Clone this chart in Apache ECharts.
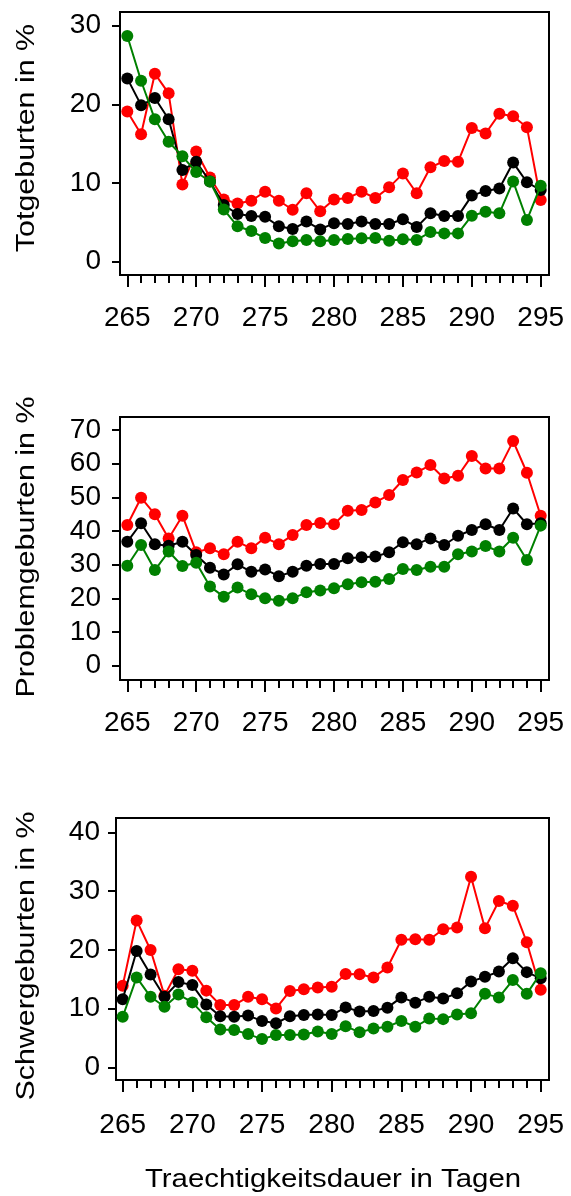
<!DOCTYPE html>
<html>
<head>
<meta charset="utf-8">
<script src="https://cdn.jsdelivr.net/npm/echarts@6/dist/echarts.min.js"></script>
<style>
html,body{margin:0;padding:0;background:#fff;}
#chart{width:571px;height:1196px;}
</style>
</head>
<body>
<div id="chart"></div>
<script>
// ---- data ----
const days = [265,266,267,268,269,270,271,272,273,274,275,276,277,278,279,280,281,282,283,284,285,286,287,288,289,290,291,292,293,294,295];
const xMajorTicks = [265,270,275,280,285,290,295];

// Panel 1: Totgeburten in %
const totRed   = [19.1,16.2,23.9,21.4,9.8,14.0,10.7,7.9,7.4,7.75,8.9,7.75,6.6,8.7,6.4,7.9,8.1,8.9,8.1,9.45,11.2,8.7,12.0,12.8,12.7,17.0,16.3,18.8,18.5,17.1,7.85];
const totBlack = [23.3,19.9,20.8,18.1,11.65,12.7,10.2,7.2,6.06,5.8,5.7,4.5,4.15,5.1,4.1,4.9,4.8,5.1,4.8,4.8,5.4,4.4,6.15,5.8,5.8,8.4,9.0,9.3,12.6,10.1,9.1];
const totGreen = [28.7,23.0,18.1,15.25,13.4,11.4,10.2,6.65,4.5,3.9,3.0,2.3,2.6,2.75,2.6,2.76,2.88,2.97,3.0,2.67,2.85,2.76,3.77,3.6,3.6,5.85,6.35,6.15,10.2,5.3,9.66];
const totYTicks = [0,10,20,30];

// Panel 2: Problemgeburten in %
const probRed   = [41.8,49.9,44.95,37.8,44.55,33.7,34.85,33.1,36.8,34.85,38.0,36.1,38.8,41.8,42.4,42.0,46.0,46.25,48.5,50.7,55.15,57.4,59.6,55.6,56.4,62.3,58.6,58.6,66.7,57.3,44.55];
const probBlack = [36.8,42.3,36.05,35.6,36.8,32.9,29.1,27.1,30.1,27.9,28.6,26.6,27.9,29.7,30.2,30.2,31.9,32.2,32.4,33.7,36.65,36.1,37.8,35.85,38.6,40.3,42.0,40.3,46.7,42.0,42.3];
const probGreen = [29.7,35.85,28.4,33.9,29.6,30.6,23.5,20.5,23.2,21.2,20.0,19.3,20.0,21.8,22.3,23.0,24.2,24.8,24.95,25.75,28.7,28.4,29.4,29.4,33.1,33.9,35.55,33.9,38.0,31.4,41.6];
const probYTicks = [0,10,20,30,40,50,60,70];

// Panel 3: Schwergeburten in %
const schwRed   = [13.9,25.0,19.97,12.2,16.7,16.45,13.05,10.6,10.6,12.0,11.6,10.0,13.0,13.3,13.6,13.7,15.9,15.85,15.3,17.0,21.7,21.8,21.7,23.5,23.8,32.45,23.65,28.3,27.5,21.3,13.2];
const schwBlack = [11.6,19.8,15.8,12.0,14.5,14.0,10.7,8.7,8.6,8.8,7.9,7.5,8.7,8.9,9.0,8.9,10.2,9.5,9.6,10.15,11.9,11.0,12.0,11.7,12.6,14.6,15.4,16.3,18.55,16.2,15.15];
const schwGreen = [8.6,15.3,12.0,10.3,12.4,11.05,8.5,6.45,6.35,5.65,4.8,5.5,5.5,5.6,6.1,5.67,7.0,5.95,6.6,6.9,7.9,6.9,8.3,8.2,9.0,9.2,12.5,11.9,14.85,12.5,16.0];
const schwYTicks = [0,10,20,30,40];

const yTitles = ['Totgeburten in %','Problemgeburten in %','Schwergeburten in %'];
const xTitle = 'Traechtigkeitsdauer in Tagen';

// ---- layout ----
const FONT = '"Liberation Sans", Arial, sans-serif';
const panels = [
  {data:{left:127.3, top:25.7, width:413.4, height:236}, frame:{left:120, top:12, width:429, height:263},
   yTicks:totYTicks, series:[totRed,totBlack,totGreen], titleY:138, ylm:19, xlm:29},
  {data:{left:127.3, top:430, width:413.4, height:235.7}, frame:{left:120, top:417, width:429, height:263},
   yTicks:probYTicks, series:[probRed,probBlack,probGreen], titleY:547, ylm:19, xlm:29},
  {data:{left:122.7, top:832.3, width:418, height:235}, frame:{left:116, top:818, width:433, height:262},
   yTicks:schwYTicks, series:[schwRed,schwBlack,schwGreen], titleY:956, ylm:16, xlm:31}
];
const colors = ['#ff0000','#000000','#008000'];

const grids=[], xAxes=[], yAxes=[], series=[], graphics=[];
panels.forEach((p,i)=>{
  grids.push(Object.assign({show:true, borderColor:'#000', borderWidth:2, backgroundColor:'transparent'}, p.frame));
  xAxes.push({type:'value', gridIndex:i, show:false, min:0, max:1});
  yAxes.push({type:'value', gridIndex:i, show:false, min:0, max:1});
});
panels.forEach((p,i)=>{
  const gi = 3+i;
  grids.push(Object.assign({show:false}, p.data));
  const xOff = (p.frame.top + p.frame.height) - (p.data.top + p.data.height);
  const yOff = p.data.left - p.frame.left;
  xAxes.push({type:'value', gridIndex:gi, position:'bottom', offset:xOff, z:10,
    min:xMajorTicks[0], max:xMajorTicks[xMajorTicks.length-1], interval:5,
    axisLine:{show:false, onZero:false},
    axisTick:{show:true, length:12, lineStyle:{color:'#000', width:2}},
    minorTick:{show:true, splitNumber:5, length:8, lineStyle:{color:'#000', width:2}},
    axisLabel:{show:true, color:'#000', fontSize:28, fontFamily:FONT, margin:p.xlm},
    splitLine:{show:false}, minorSplitLine:{show:false}});
  yAxes.push({type:'value', gridIndex:gi, position:'left', offset:yOff, z:10,
    min:p.yTicks[0], max:p.yTicks[p.yTicks.length-1], interval:10,
    axisLine:{show:false, onZero:false},
    axisTick:{show:true, length:8, lineStyle:{color:'#000', width:2}},
    axisLabel:{show:true, color:'#000', fontSize:28, fontFamily:FONT, margin:p.ylm},
    splitLine:{show:false}});
  p.series.forEach((vals,k)=>{
    series.push({type:'line', xAxisIndex:gi, yAxisIndex:gi,
      data:days.map((d,j)=>[d, vals[j]]),
      symbol:'circle', symbolSize:12, showSymbol:true, clip:false,
      lineStyle:{color:colors[k], width:2},
      itemStyle:{color:colors[k]},
      animation:false, silent:true, z:3+k});
  });
  graphics.push({type:'text', x:27, y:p.titleY, rotation:Math.PI/2, scaleX:1.17,
    style:{text:yTitles[i], fill:'#000', font:'26px '+FONT, textAlign:'center', textVerticalAlign:'middle'}});
});
graphics.push({type:'text', x:333, y:1180, scaleX:1.13,
  style:{text:xTitle, fill:'#000', font:'26px '+FONT, textAlign:'center', textVerticalAlign:'middle'}});

const chart = echarts.init(document.getElementById('chart'), null, {renderer:'canvas'});
chart.setOption({
  backgroundColor:'#fff',
  animation:false,
  grid:grids, xAxis:xAxes, yAxis:yAxes, series:series, graphic:graphics
});
</script>
</body>
</html>
